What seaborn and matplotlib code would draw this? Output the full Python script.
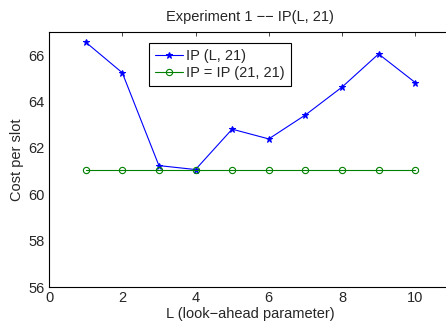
import matplotlib
matplotlib.use("Agg")
import matplotlib.pyplot as plt
import seaborn as sns
import pandas as pd

L = [1, 2, 3, 4, 5, 6, 7, 8, 9, 10]
ip_L21 = [66.56, 65.24, 61.24, 61.07, 62.81, 62.39, 63.42, 64.62, 66.05, 64.82]
ip_21_21 = [61.05] * 10
labels = ["IP (L, 21)", "IP = IP (21, 21)"]

sns.set_style("white")
plt.rcParams['font.family'] = ['Liberation Sans', 'DejaVu Sans']

df = pd.DataFrame({"L": L + L, "cost": ip_L21 + ip_21_21,
                   "series": [labels[0]] * 10 + [labels[1]] * 10})

fig = plt.figure(figsize=(4.46, 3.29), dpi=100)
ax = fig.add_axes([0.11, 0.127, 0.903, 0.776])

sns.lineplot(data=df[df.series == labels[0]], x="L", y="cost", ax=ax,
             color=(0, 0, 1), linewidth=0.8, marker="*", markersize=4.5,
             markeredgecolor=(0, 0, 1), label=labels[0])
sns.lineplot(data=df[df.series == labels[1]], x="L", y="cost", ax=ax,
             color=(0, 0.5, 0), linewidth=0.8, marker="o", markersize=4.5,
             markerfacecolor="none", markeredgecolor=(0, 0.5, 0), markeredgewidth=0.8,
             label=labels[1])

ax.set_xlim(0, 11)
ax.set_ylim(56, 67)
ax.set_xticks([0, 2, 4, 6, 8, 10])
ax.set_yticks([56, 58, 60, 62, 64, 66])
ax.tick_params(direction="in", length=3, width=0.6, top=True, right=True, labelsize=10.5, pad=3)
for s in ax.spines.values():
    s.set_linewidth(0.8)
    s.set_color("black")
ax.set_xlabel("L (look\u2212ahead parameter)", fontsize=10.5, labelpad=1.5)
ax.set_ylabel("Cost per slot", fontsize=10.5, labelpad=3)
ax.set_title("Experiment 1 \u2212\u2212 IP(L, 21)", fontsize=10.5, pad=8)

leg = ax.legend(loc="upper left", bbox_to_anchor=(0.247, 0.957), fontsize=10.5,
                frameon=True, fancybox=False, edgecolor="black", framealpha=1,
                handlelength=1.9, handletextpad=0.2, borderpad=0.45, labelspacing=0.15,
                borderaxespad=0)
leg.get_frame().set_linewidth(0.8)

fig.savefig("out.png", dpi=100)
